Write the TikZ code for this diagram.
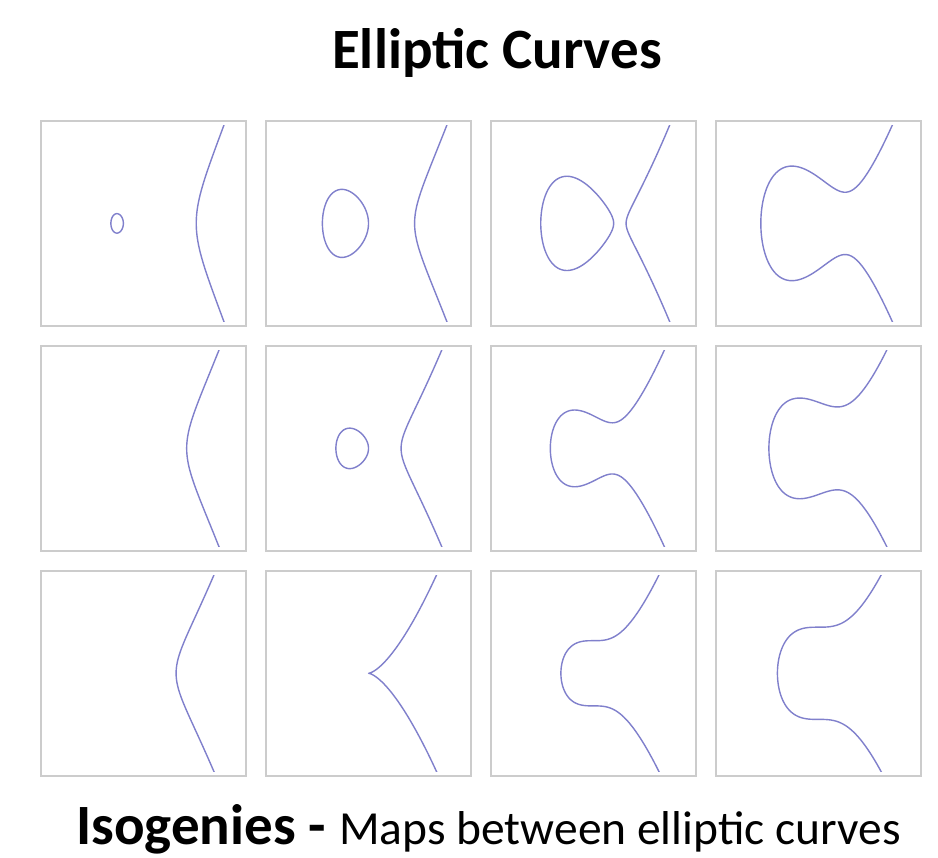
\documentclass[tikz,border=0pt]{standalone}
\usepackage{fontspec}
\setmainfont{Carlito}
\definecolor{curvecol}{RGB}{128,128,204}
\definecolor{framecol}{RGB}{204,204,204}
\tikzset{
  panel/.style={draw=framecol, line width=1.8pt, minimum size=205pt, inner sep=0pt, outer sep=0pt},
  curve/.style={draw=curvecol, line width=1.4pt, line join=round, line cap=round},
  ecscope/.style={x=32.6pt, y=32.6pt}
}
% branch: root r, c = r^2 + a, parameter bound T
\newcommand\ecbranch[3]{\draw[curve] plot[domain=-#3:#3,samples=181,variable=\q] ({#1+(\q)*(\q)},{(\q)*sqrt((#1+(\q)*(\q))*(#1+(\q)*(\q))+(#1)*(#1+(\q)*(\q))+(#2))});}
% oval: midpoint m, half-width h, third root r3
\newcommand\ecoval[3]{\draw[curve] plot[domain=0:360,samples=145,variable=\q] ({#1+#2*cos(\q)},{#2*sin(\q)*sqrt(#3-(#1)-#2*cos(\q))}) -- cycle;}
\newcommand\ecpanel[3]{\node[panel] (#1) at (#2,#3) {};}
\begin{document}
\begin{tikzpicture}[x=1pt,y=1pt]
\useasboundingbox (0,0) rectangle (938,858);
\fill[white] (0,0) rectangle (938,858);

\node[font=\bfseries\fontsize{57}{66}\selectfont, anchor=base, inner sep=0pt] (title) at (497,789) {Elliptic Curves};

% row 1 : a = -2
\ecpanel{p11}{143.5}{634.6}
\ecpanel{p12}{368.5}{634.6}
\ecpanel{p13}{593.5}{634.6}
\ecpanel{p14}{818.5}{634.6}
% row 2 : a = -1
\ecpanel{p21}{143.5}{409.6}
\ecpanel{p22}{368.5}{409.6}
\ecpanel{p23}{593.5}{409.6}
\ecpanel{p24}{818.5}{409.6}
% row 3 : a = 0
\ecpanel{p31}{143.5}{184.7}
\ecpanel{p32}{368.5}{184.7}
\ecpanel{p33}{593.5}{184.7}
\ecpanel{p34}{818.5}{184.7}

% a=-2, b=-1
\begin{scope}[shift={(p11.center)}, ecscope]
\clip (-3.2,-3) rectangle (3.2,3);
\ecoval{-0.809017}{0.190983}{1.618034}
\ecbranch{1.618034}{0.618034}{1.0402}
\end{scope}
% a=-2, b=0
\begin{scope}[shift={(p12.center)}, ecscope]
\clip (-3.2,-3) rectangle (3.2,3);
\ecoval{-0.707107}{0.707107}{1.414214}
\ecbranch{1.414214}{0}{1.1339}
\end{scope}
% a=-2, b=1
\begin{scope}[shift={(p13.center)}, ecscope]
\clip (-3.2,-3) rectangle (3.2,3);
\ecoval{-0.5}{1.118034}{1}
\ecbranch{1}{-1}{1.3038}
\end{scope}
% a=-2, b=2
\begin{scope}[shift={(p14.center)}, ecscope]
\clip (-3.2,-3) rectangle (3.2,3);
\ecbranch{-1.76928}{1.13035}{2.1141}
\end{scope}

% a=-1, b=-1
\begin{scope}[shift={(p21.center)}, ecscope]
\clip (-3.2,-3) rectangle (3.2,3);
\ecbranch{1.324718}{0.754878}{1.1727}
\end{scope}
% a=-1, b=0
\begin{scope}[shift={(p22.center)}, ecscope]
\clip (-3.2,-3) rectangle (3.2,3);
\ecoval{-0.5}{0.5}{1}
\ecbranch{1}{0}{1.3038}
\end{scope}
% a=-1, b=1
\begin{scope}[shift={(p23.center)}, ecscope]
\clip (-3.2,-3) rectangle (3.2,3);
\ecbranch{-1.324718}{0.754878}{2.0062}
\end{scope}
% a=-1, b=2
\begin{scope}[shift={(p24.center)}, ecscope]
\clip (-3.2,-3) rectangle (3.2,3);
\ecbranch{-1.52138}{1.31460}{2.0546}
\end{scope}

% a=0, b=-1
\begin{scope}[shift={(p31.center)}, ecscope]
\clip (-3.2,-3) rectangle (3.2,3);
\ecbranch{1}{1}{1.3038}
\end{scope}
% a=0, b=0 (cusp)
\begin{scope}[shift={(p32.center)}, ecscope]
\clip (-3.2,-3) rectangle (3.2,3);
\ecbranch{0}{0}{1.6432}
\end{scope}
% a=0, b=1
\begin{scope}[shift={(p33.center)}, ecscope]
\clip (-3.2,-3) rectangle (3.2,3);
\ecbranch{-1}{1}{1.9235}
\end{scope}
% a=0, b=2
\begin{scope}[shift={(p34.center)}, ecscope]
\clip (-3.2,-3) rectangle (3.2,3);
\ecbranch{-1.259921}{1.587401}{1.9900}
\end{scope}

\node[anchor=base west, inner sep=0pt] (caption) at (76,13)
  {{\bfseries\fontsize{57}{66}\selectfont Isogenies - }{\fontsize{47.5}{56}\selectfont Maps between elliptic curves}};
\end{tikzpicture}
\end{document}
